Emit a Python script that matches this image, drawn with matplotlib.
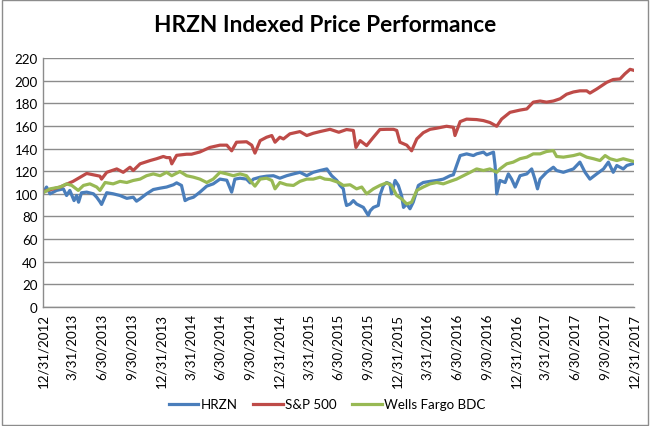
import numpy as np
import pandas as pd
import matplotlib
matplotlib.use('Agg')
import matplotlib.pyplot as plt
import matplotlib.dates as mdates

plt.rcParams['font.family'] = ['Lato', 'DejaVu Sans']

start = pd.Timestamp('2012-12-31')

# valores (dias desde 12/31/2012, indice)
hrzn_days = [0, 10, 21, 41, 62, 72, 82, 95, 103, 109, 118, 134, 155, 165, 175, 180,
             196, 216, 237, 258, 278, 288, 299, 319, 340, 361, 381, 402, 412, 427,
             438, 448, 464, 484, 505, 525, 546, 567, 582, 592, 608, 628, 639, 649,
             670, 690, 711, 731, 752, 773, 793, 814, 834, 855, 876, 891, 907, 917,
             927, 932, 937, 948, 958, 968, 989, 1004, 1010, 1020, 1035, 1040, 1051,
             1061, 1071, 1076, 1087, 1097, 1107, 1113, 1123, 1133, 1143, 1159, 1174,
             1195, 1216, 1236, 1257, 1267, 1277, 1288, 1308, 1329, 1339, 1360, 1370,
             1391, 1396, 1401, 1411, 1427, 1437, 1447, 1458, 1473, 1494, 1509, 1519,
             1527, 1535, 1555, 1576, 1586, 1607, 1638, 1658, 1674, 1689, 1710, 1731,
             1746, 1761, 1772, 1792, 1803, 1826]
hrzn_vals = [101.5, 106, 100, 103, 104.4, 98.5, 103, 94, 98.5, 92.6, 100.9, 101.5, 100, 97, 93, 90.6,
             101, 100, 98.5, 96, 97, 93.5, 95.6, 100, 103.8, 105, 106, 108, 109.7, 107.4,
             94, 95.6, 97, 101.5, 106.8, 108.8, 113, 112, 101.5, 113, 113.8, 113, 109.7, 113,
             114.7, 115.6, 116, 113.8, 116, 117.6, 119, 116, 119, 120.6, 122, 116, 111.8, 107.4,
             104.4, 95.6, 89.7, 91, 94, 91, 88, 81, 85, 88, 89.7, 98.5, 107.4,
             110, 108.8, 100, 111.8, 107.4, 98.5, 88, 91, 86.8, 92.6, 107.4, 110,
             111, 111.8, 113, 116, 116.8, 125, 133.8, 135.3, 133.8, 135.3, 136.8, 134.4,
             136.8, 125, 100, 111.8, 110, 117.6, 113, 106, 116, 117.6, 122, 113,
             104.4, 113, 119, 123.5, 120.6, 119, 122, 128, 119, 113, 117.6, 122,
             128, 119, 125, 122, 125, 127]

sp_days = [0, 52, 92, 134, 175, 180, 196, 227, 247, 268, 278, 299, 330, 350, 371, 381,
           391, 397, 412, 443, 458, 484, 515, 546, 567, 582, 597, 628, 644, 654, 670,
           690, 706, 716, 731, 742, 762, 793, 814, 834, 855, 886, 913, 937, 958, 966,
           979, 999, 1020, 1040, 1061, 1082, 1092, 1102, 1123, 1138, 1154, 1174, 1195,
           1216, 1246, 1267, 1272, 1288, 1308, 1339, 1360, 1380, 1401, 1416, 1442, 1473,
           1494, 1514, 1535, 1555, 1576, 1597, 1617, 1638, 1658, 1679, 1689, 1710, 1741,
           1761, 1782, 1797, 1813, 1826]
sp_vals = [102, 106, 111, 118, 115.6, 113, 119, 122, 119, 123.5, 120.6, 126.5, 129.4, 131, 133, 132,
           132, 126.5, 134, 135, 135, 137, 141, 143, 143, 138, 145.6, 146, 143, 136, 147,
           150, 151.5, 145.6, 150, 148.5, 153, 155, 151.5, 153.5, 155, 157, 154.4, 156.8, 156, 141,
           147, 142.6, 150, 156.8, 157, 157, 156, 145.6, 143, 138, 148.5, 154, 157,
           158, 159.7, 158.8, 151.5, 163.8, 166, 165.6, 164.7, 163, 159.7, 166, 172, 174,
           175, 181, 182, 181, 182, 184, 188, 190, 191, 191, 189, 192.6, 198.5,
           201, 201.5, 206, 210, 209]

wf_days = [0, 21, 52, 72, 88, 108, 124, 144, 165, 175, 191, 216, 237, 258, 278, 299,
           319, 340, 361, 381, 397, 422, 443, 464, 484, 505, 525, 546, 567, 587, 608,
           628, 644, 654, 670, 690, 706, 716, 731, 752, 773, 793, 814, 834, 855, 870,
           886, 913, 927, 948, 968, 984, 999, 1020, 1040, 1061, 1076, 1092, 1107, 1123,
           1138, 1154, 1174, 1195, 1216, 1236, 1257, 1277, 1298, 1319, 1339, 1360, 1380,
           1401, 1411, 1432, 1452, 1473, 1494, 1514, 1535, 1555, 1576, 1586, 1607, 1638,
           1658, 1679, 1700, 1720, 1736, 1751, 1772, 1792, 1813, 1826]
wf_vals = [101, 104.4, 106, 108.8, 107.4, 103, 107.4, 108.8, 106, 103, 110, 108.8, 111, 110, 111.8, 113,
           116, 117.6, 116, 119, 116, 119.7, 116, 114.7, 113, 110, 113, 119, 117.6, 116, 117.6,
           116, 110, 106.8, 113, 113.8, 111.8, 104.4, 110, 108, 107.4, 111, 113, 113, 114.7, 113,
           112.6, 110, 107.4, 108, 104.4, 106, 100, 104.4, 107.4, 109.7, 107.4, 98.5, 95.6, 91,
           92.6, 103, 106, 108.8, 110, 108.8, 111, 113, 116, 119, 122, 120.6, 122,
           119, 122, 126.5, 128, 131, 132.4, 135.3, 135.3, 137.4, 138.2, 133, 132.4, 133.8,
           135.3, 132.4, 131, 129.4, 133.8, 131, 129.4, 131, 129.4, 128.5]

tick_dates = ['2012-12-31', '2013-03-31', '2013-06-30', '2013-09-30', '2013-12-31',
              '2014-03-31', '2014-06-30', '2014-09-30', '2014-12-31', '2015-03-31',
              '2015-06-30', '2015-09-30', '2015-12-31', '2016-03-31', '2016-06-30',
              '2016-09-30', '2016-12-31', '2017-03-31', '2017-06-30', '2017-09-30',
              '2017-12-31']
tick_labels = ['12/31/2012', '3/31/2013', '6/30/2013', '9/30/2013', '12/31/2013',
               '3/31/2014', '6/30/2014', '9/30/2014', '12/31/2014', '3/31/2015',
               '6/30/2015', '9/30/2015', '12/31/2015', '3/31/2016', '6/30/2016',
               '9/30/2016', '12/31/2016', '3/31/2017', '6/30/2017', '9/30/2017',
               '12/31/2017']


def to_dates(days):
    return start + pd.to_timedelta(days, unit='D')


fig = plt.figure(figsize=(6.5, 4.27), dpi=100)
ax = fig.add_axes([0.0666, 0.2787, 0.9092, 0.5831])

ax.plot(to_dates(hrzn_days), hrzn_vals, color='#4A7EBB', lw=2.3, label='HRZN')
ax.plot(to_dates(sp_days), sp_vals, color='#BE4B48', lw=2.3, label='S&P 500')
ax.plot(to_dates(wf_days), wf_vals, color='#98B954', lw=2.3, label='Wells Fargo BDC')

ax.set_ylim(0, 220)
ax.set_yticks(range(0, 221, 20))
ax.set_xlim(pd.Timestamp(tick_dates[0]), pd.Timestamp(tick_dates[-1]))
ax.set_xticks(pd.to_datetime(tick_dates))
ax.set_xticklabels(tick_labels, rotation=90)
ax.tick_params(axis='both', length=0, labelsize=9.6, colors='black', pad=4)
ax.grid(axis='y', color='#8C8C8C', lw=1)
ax.set_axisbelow(True)
for s in ['top', 'right']:
    ax.spines[s].set_visible(False)
for s in ['left', 'bottom']:
    ax.spines[s].set_color('#8C8C8C')
    ax.spines[s].set_linewidth(1)

fig.text(0.5, 0.94, 'HRZN Indexed Price Performance', ha='center', va='center',
         fontsize=16.3, fontweight='bold')

fig.legend(loc='center', bbox_to_anchor=(0.503, 0.051), ncol=3, frameon=False,
           fontsize=9.6, handlelength=2.2, handletextpad=0.15, columnspacing=1.2)

# borde del grafico
fig.patches.append(plt.Rectangle((0.003, 0.003), 0.994, 0.994, transform=fig.transFigure,
                                 fill=False, edgecolor='#8C8C8C', lw=1))

plt.savefig('out.png', dpi=100)
